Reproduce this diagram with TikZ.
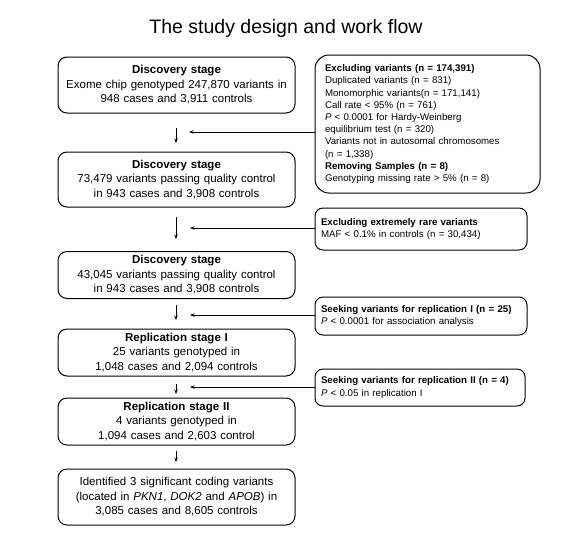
\documentclass[tikz,border=0pt]{standalone}
\usepackage{fontspec}
\setmainfont{Liberation Sans}
\usetikzlibrary{arrows.meta}
\begin{document}
\begin{tikzpicture}[x=1pt,y=-1pt,
  stagebox/.style={draw,line width=1pt,rounded corners=9pt,align=center,inner sep=0pt,
    font=\fontsize{11.5}{14.5}\selectfont,minimum width=237pt,text width=234pt},
  notebox/.style={draw,line width=1pt,rounded corners=8pt,align=left,inner ysep=0pt,
    font=\fontsize{9.7}{12.2}\selectfont,text width=#1},
  arr/.style={line width=0.8pt,-{Stealth[length=4.5pt,width=3.5pt]}}]
\useasboundingbox (0,0) rectangle (567,539);
\node (title) at (286,28) {\fontsize{19.5}{22}\selectfont The study design and work flow};
% left stages
\node[stagebox,minimum height=56pt] (s1) at (176.5,85) {\textbf{Discovery stage}\\Exome chip genotyped 247,870 variants in\\948 cases and 3,911 controls};
\node[stagebox,minimum height=55pt] (s2) at (176.5,179.5) {\textbf{Discovery stage}\\73,479 variants passing quality control\\in 943 cases and 3,908 controls};
\node[stagebox,minimum height=47pt] (s3) at (176.5,275) {\textbf{Discovery stage}\\43,045 variants passing quality control\\in 943 cases and 3,908 controls};
\node[stagebox,minimum height=47pt] (s4) at (176.5,352.5) {\textbf{Replication stage I}\\25 variants genotyped in\\1,048 cases and 2,094 controls};
\node[stagebox,minimum height=47pt] (s5) at (176.5,421.5) {\textbf{Replication stage II}\\4 variants genotyped in\\1,094 cases and 2,603 control};
\node[stagebox,minimum height=56pt] (s6) at (176.5,497) {Identified 3 significant coding variants\\(located in \textit{PKN1}, \textit{DOK2} and \textit{APOB}) in\\3,085 cases and 8,605 controls};
% right notes
\node[notebox=205pt,inner xsep=10pt,rounded corners=14pt,minimum width=225pt,minimum height=138pt] (r1) at (427.5,124) {\textbf{Excluding variants (n = 174,391)}\\Duplicated variants (n = 831)\\Monomorphic variants(n = 171,141)\\Call rate < 95\% (n = 761)\\\textit{P} < 0.0001 for Hardy-Weinberg\\equilibrium test (n = 320)\\Variants not in autosomal chromosomes\\(n = 1,338)\\\textbf{Removing Samples (n = 8)}\\Genotyping missing rate > 5\% (n = 8)};
\node[notebox=200pt,inner xsep=6pt,minimum width=212pt,minimum height=42pt] (r2) at (421,229) {\textbf{Excluding extremely rare variants}\\MAF < 0.1\% in controls (n = 30,434)};
\node[notebox=200pt,inner xsep=6pt,minimum width=212pt,minimum height=38pt] (r3) at (421,316) {\textbf{Seeking variants for replication I (n = 25)}\\\textit{P} < 0.0001 for association analysis};
\node[notebox=198pt,inner xsep=6pt,minimum width=210pt,minimum height=37pt] (r4) at (420,387.5) {\textbf{Seeking variants for replication II (n = 4)}\\\textit{P} < 0.05 in replication I};
% vertical arrows (floating between stages)
\coordinate (d1a) at (176,128); \coordinate (d1b) at (176,143);
\coordinate (d2a) at (176,217); \coordinate (d2b) at (176,239);
\coordinate (d3a) at (176,305); \coordinate (d3b) at (176,320);
\coordinate (d4a) at (176,384); \coordinate (d4b) at (176,394);
\coordinate (d5a) at (176,451); \coordinate (d5b) at (176,462);
\foreach \i in {1,...,5} {\draw[arr] (d\i a) -- (d\i b);}
% horizontal arrows
\coordinate (h1) at (189,132);
\coordinate (h2) at (190,228);
\coordinate (h3) at (190,315);
\coordinate (h4) at (190,387);
\draw[arr] (r1.west |- h1) -- (h1);
\draw[arr] (r2.west |- h2) -- (h2);
\draw[arr] (r3.west |- h3) -- (h3);
\draw[arr] (r4.west |- h4) -- (h4);
\end{tikzpicture}
\end{document}
